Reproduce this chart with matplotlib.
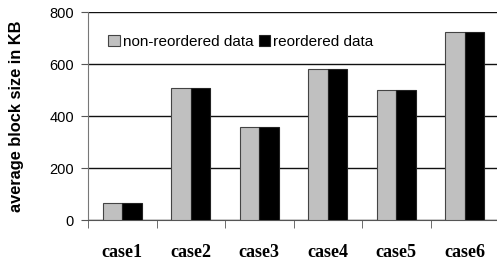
import numpy as np
import matplotlib.pyplot as plt

# data
cases = ['case1', 'case2', 'case3', 'case4', 'case5', 'case6']
non_reordered = [64, 508, 357, 580, 499, 723]
reordered = [64, 508, 357, 580, 499, 723]

fig = plt.figure(figsize=(4.97, 2.65), dpi=100)
ax = fig.add_axes([88 / 497, 45 / 265, 411 / 497, 208 / 265])

x = np.arange(len(cases))
w = 0.285
ax.bar(x - w / 2, non_reordered, w, color='#c0c0c0', edgecolor='#444444', linewidth=0.8,
       label='non-reordered data', zorder=3)
ax.bar(x + w / 2, reordered, w, color='black', edgecolor='#222222', linewidth=0.8,
       label='reordered data', zorder=3)

ax.set_xlim(-0.5, len(cases) - 0.5)
ax.set_ylim(0, 800)
ax.set_yticks([0, 200, 400, 600, 800])
ax.yaxis.grid(True, color='#111111', linewidth=1.0, zorder=0)

ax.set_xticks(x)
ax.set_xticklabels(cases, family='Liberation Serif', fontweight='bold', fontsize=13)
ax.set_xticks(np.arange(len(cases) + 1) - 0.5, minor=True)
ax.tick_params(axis='x', which='major', length=0, pad=17)
ax.tick_params(axis='x', which='minor', length=6, color='#555555', direction='out')
ax.tick_params(axis='y', length=5, color='#555555', labelsize=10.5, pad=5)
for lab in ax.get_yticklabels():
    lab.set_family('Liberation Sans')

for s in ['top', 'right']:
    ax.spines[s].set_visible(False)
ax.spines['left'].set_color('#777777')
ax.spines['bottom'].set_color('#555555')

ax.set_ylabel('average block size in KB', family='Liberation Sans', fontweight='bold',
              fontsize=11.8)
ax.yaxis.set_label_coords(-64 / 411, 0.5)

ax.legend(loc='upper left', bbox_to_anchor=(0.035, 0.92), ncol=2, frameon=False,
          prop={'family': 'Liberation Sans', 'size': 11}, handlelength=0.75,
          handleheight=0.75, handletextpad=0.2, columnspacing=0.35, borderaxespad=0)

fig.savefig('out.png', dpi=100)
